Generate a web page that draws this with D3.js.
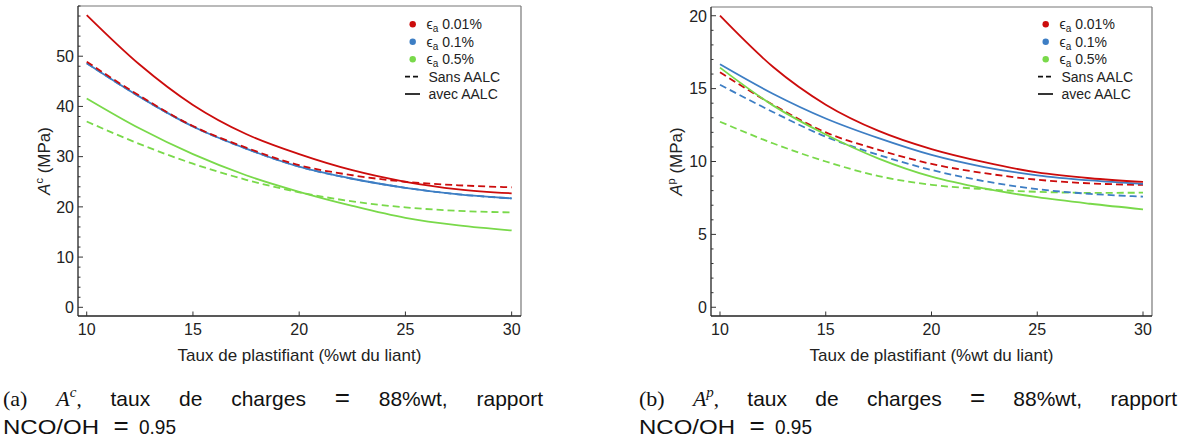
<!DOCTYPE html>
<html>
<head>
<meta charset="utf-8">
<script src="https://cdn.jsdelivr.net/npm/d3@7"></script>
<style>
  body { margin: 0; background: #fff; }
  svg { display: block; }
</style>
</head>
<body>
<svg id="chart" width="1186" height="442"></svg>
<script>
// ---- Data ----
const xs = [10, 12.5, 15, 17.5, 20, 22.5, 25, 27.5, 30];

// Panel (a): A^c (MPa)
const acRedAvec   = [58.2, 48.3, 40.3, 34.5, 30.5, 27.3, 25.0, 23.5, 22.7];
const acRedSans   = [48.9, 42.1, 36.1, 31.8, 28.3, 26.3, 25.0, 24.3, 23.9];
const acBlueAvec  = [48.6, 41.9, 36.0, 31.6, 28.0, 25.6, 23.8, 22.5, 21.7];
const acBlueSans  = [48.6, 41.9, 36.0, 31.6, 28.0, 25.6, 23.8, 22.5, 21.7];
const acGreenAvec = [41.6, 35.6, 30.5, 26.3, 23.0, 20.2, 17.8, 16.3, 15.3];
const acGreenSans = [37.0, 32.5, 28.6, 25.4, 22.9, 21.1, 19.9, 19.2, 18.9];

// Panel (b): A^p (MPa)
const apRedAvec   = [20.0, 16.5, 13.9, 12.1, 10.85, 9.95, 9.25, 8.85, 8.6];
const apRedSans   = [16.12, 13.9, 12.0, 10.8, 9.83, 9.2, 8.75, 8.5, 8.39];
const apBlueAvec  = [16.67, 14.65, 12.95, 11.6, 10.45, 9.62, 9.05, 8.7, 8.46];
const apBlueSans  = [15.27, 13.4, 11.7, 10.45, 9.42, 8.65, 8.1, 7.78, 7.59];
const apGreenAvec = [16.44, 13.85, 11.85, 10.2, 8.96, 8.15, 7.55, 7.1, 6.72];
const apGreenSans = [12.73, 11.25, 10.0, 9.0, 8.4, 8.1, 7.92, 7.85, 7.86];

const xTicks = [10, 15, 20, 25, 30];
const acYTicks = [0, 10, 20, 30, 40, 50];
const apYTicks = [0, 5, 10, 15, 20];

const legendSeries = ["0.01%", "0.1%", "0.5%"];
const legendStyles = ["Sans AALC", "avec AALC"];
const xTitle = "Taux de plastifiant (%wt du liant)";

// ---- Styling ----
const colors = { red: "#cc0c0c", blue: "#3d7ec4", green: "#79d94a" };
const DASH = "7,4";
const SANS = "Liberation Sans, Arial, sans-serif";

const svg = d3.select("#chart");

function drawPanel(cfg) {
  const { left, right, top, bottom, xDom, yDom, yTicks, yMinorStep, series, yLabelSup, yLabelX, legendX, id } = cfg;
  const x = d3.scaleLinear().domain(xDom).range([left, right]);
  const y = d3.scaleLinear().domain(yDom).range([bottom, top]);
  const g = svg.append("g");

  g.append("clipPath").attr("id", "clip" + id)
    .append("rect").attr("x", left).attr("y", top).attr("width", right - left).attr("height", bottom - top);

  // frame
  g.append("line").attr("x1", left).attr("x2", right).attr("y1", top).attr("y2", top).attr("stroke", "#777").attr("stroke-width", 1.2);
  g.append("line").attr("x1", right).attr("x2", right).attr("y1", top).attr("y2", bottom).attr("stroke", "#777").attr("stroke-width", 1.2);
  g.append("line").attr("x1", left).attr("x2", right).attr("y1", bottom).attr("y2", bottom).attr("stroke", "#222").attr("stroke-width", 1.3);
  g.append("line").attr("x1", left).attr("x2", left).attr("y1", top).attr("y2", bottom).attr("stroke", "#222").attr("stroke-width", 1.3);

  // y ticks (major + minor) pointing inward
  const minor = d3.range(0, yDom[1] + 1e-9, yMinorStep).filter(v => !yTicks.some(t => Math.abs(t - v) < 1e-9));
  g.selectAll(".ymin").data(minor).enter().append("line")
    .attr("x1", left).attr("x2", left + 2.5).attr("y1", d => y(d)).attr("y2", d => y(d))
    .attr("stroke", "#333").attr("stroke-width", 1);
  g.selectAll(".ymaj").data(yTicks).enter().append("line")
    .attr("x1", left).attr("x2", left + 5).attr("y1", d => y(d)).attr("y2", d => y(d))
    .attr("stroke", "#333").attr("stroke-width", 1);
  g.selectAll(".ylab").data(yTicks).enter().append("text")
    .attr("x", left - 4).attr("y", d => y(d)).attr("dy", "0.36em")
    .attr("text-anchor", "end").attr("font-family", SANS)
    .attr("font-size", 16).attr("fill", "#222").text(d => d);

  // x ticks
  g.selectAll(".xmaj").data(xTicks).enter().append("line")
    .attr("x1", d => x(d)).attr("x2", d => x(d)).attr("y1", bottom).attr("y2", bottom - 4.5)
    .attr("stroke", "#333").attr("stroke-width", 1);
  g.selectAll(".xlab").data(xTicks).enter().append("text")
    .attr("x", d => x(d)).attr("y", 335)
    .attr("text-anchor", "middle").attr("font-family", SANS)
    .attr("font-size", 16).attr("fill", "#222").text(d => d);

  // x title
  g.append("text").attr("x", (left + right) / 2).attr("y", 361)
    .attr("text-anchor", "middle").attr("font-family", SANS)
    .attr("font-size", 17).attr("fill", "#222").text(xTitle);

  // y title
  const yt = g.append("text").attr("transform", `translate(${yLabelX},${(top + bottom) / 2}) rotate(-90)`)
    .attr("text-anchor", "middle").attr("font-family", SANS)
    .attr("font-size", 17).attr("fill", "#222");
  yt.append("tspan").attr("font-style", "italic").text("A");
  yt.append("tspan").attr("font-size", 11).attr("dy", -7).text(yLabelSup);
  yt.append("tspan").attr("dy", 7).text(" (MPa)");

  // lines
  const line = d3.line().x((d, i) => x(xs[i])).y(d => y(d)).curve(d3.curveMonotoneX);
  const lg = g.append("g").attr("clip-path", `url(#clip${id})`);
  series.forEach(s => {
    lg.append("path").attr("d", line(s.values)).attr("fill", "none")
      .attr("stroke", s.color).attr("stroke-width", 1.8)
      .attr("stroke-dasharray", s.dashed ? DASH : null);
  });

  // legend
  const rows = [24.3, 41.7, 59.2, 76.7, 94];
  const lcols = [colors.red, colors.blue, colors.green];
  legendSeries.forEach((lab, i) => {
    g.append("circle").attr("cx", legendX + 7.7).attr("cy", rows[i]).attr("r", 3.2).attr("fill", lcols[i]);
    const t = g.append("text").attr("x", legendX + 21.5).attr("y", rows[i]).attr("dy", "0.36em")
      .attr("font-family", SANS).attr("font-size", 14).attr("fill", "#222");
    t.append("tspan").text("ϵ");
    t.append("tspan").attr("font-size", 10).attr("dy", 3).text("a");
    t.append("tspan").attr("dy", -3).text(" " + lab);
  });
  legendStyles.forEach((lab, j) => {
    const yy = rows[3 + j];
    g.append("line").attr("x1", legendX).attr("x2", legendX + 15).attr("y1", yy).attr("y2", yy)
      .attr("stroke", "#111").attr("stroke-width", 1.7).attr("stroke-dasharray", j === 0 ? "5,3" : null);
    g.append("text").attr("x", legendX + 23.5).attr("y", yy).attr("dy", "0.36em")
      .attr("font-family", SANS).attr("font-size", 14).attr("fill", "#222").text(lab);
  });
}

drawPanel({
  id: "a", left: 78, right: 521, top: 6, bottom: 316,
  xDom: [9.59, 30.44], yDom: [-1.73, 60.0], yTicks: acYTicks, yMinorStep: 2,
  yLabelSup: "c", yLabelX: 50, legendX: 405,
  series: [
    { values: acBlueSans, color: colors.blue, dashed: true },
    { values: acGreenAvec, color: colors.green, dashed: false },
    { values: acGreenSans, color: colors.green, dashed: true },
    { values: acBlueAvec, color: colors.blue, dashed: false },
    { values: acRedAvec, color: colors.red, dashed: false },
    { values: acRedSans, color: colors.red, dashed: true }
  ]
});

drawPanel({
  id: "b", left: 711, right: 1152, top: 7, bottom: 316,
  xDom: [9.575, 30.425], yDom: [-0.6, 20.6], yTicks: apYTicks, yMinorStep: 1,
  yLabelSup: "p", yLabelX: 682, legendX: 1038,
  series: [
    { values: apGreenSans, color: colors.green, dashed: true },
    { values: apBlueSans, color: colors.blue, dashed: true },
    { values: apRedSans, color: colors.red, dashed: true },
    { values: apGreenAvec, color: colors.green, dashed: false },
    { values: apBlueAvec, color: colors.blue, dashed: false },
    { values: apRedAvec, color: colors.red, dashed: false }
  ]
});

// ---- Captions (justified first line) ----
function caption(x0, x1, letter, sup) {
  const words = [
    { t: "(" + letter + ")", serif: true, size: 22 },
    { t: "A", serif: true, italic: true, sup: sup },
    { t: "taux" }, { t: "de" }, { t: "charges" }, { t: "=", size: 26 }, { t: "88%wt," }, { t: "rapport" }
  ];
  const g = svg.append("g");
  const els = words.map(w => {
    const te = g.append("text").attr("y", 406).attr("font-size", w.size || 21).attr("fill", "#111")
      .attr("font-family", w.serif ? "Liberation Serif, serif" : SANS);
    if (w.italic) {
      te.append("tspan").attr("font-style", "italic").attr("font-size", 22).text(w.t);
      te.append("tspan").attr("font-style", "italic").attr("font-size", 15).attr("dy", -9).text(w.sup);
      te.append("tspan").attr("dy", 9).text(",");
    } else {
      te.text(w.t);
    }
    return te;
  });
  const widths = els.map(e => e.node().getComputedTextLength());
  const total = d3.sum(widths);
  const gap = (x1 - x0 - total) / (els.length - 1);
  let cx = x0;
  els.forEach((e, i) => { e.attr("x", cx); cx += widths[i] + gap; });

  // second line: NCO/OH = 0.95
  g.append("text").attr("x", x0).attr("y", 434).attr("font-size", 21).attr("fill", "#111")
    .attr("font-family", SANS).attr("textLength", 96).attr("lengthAdjust", "spacingAndGlyphs").text("NCO/OH");
  g.append("text").attr("x", x0 + 118).attr("y", 434).attr("font-size", 26).attr("fill", "#111")
    .attr("text-anchor", "middle").attr("font-family", SANS).text("=");
  g.append("text").attr("x", x0 + 136).attr("y", 434).attr("font-size", 21).attr("fill", "#111")
    .attr("font-family", SANS).attr("textLength", 37).attr("lengthAdjust", "spacingAndGlyphs").text("0.95");
}
caption(3, 543, "a", "c");
caption(639, 1177, "b", "p");
</script>
</body>
</html>
